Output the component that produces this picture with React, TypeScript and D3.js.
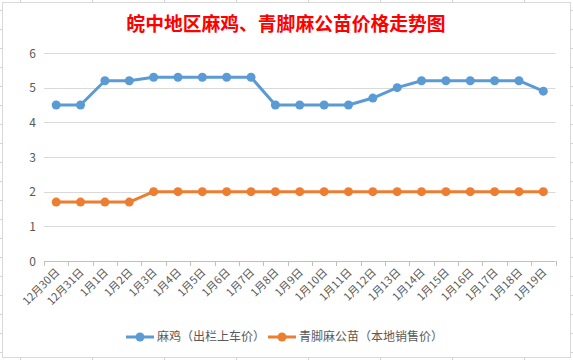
import React, { useEffect, useRef } from 'react';
import * as d3 from 'd3';

const categories = ['12月30日', '12月31日', '1月1日', '1月2日', '1月3日', '1月4日', '1月5日', '1月6日', '1月7日', '1月8日', '1月9日', '1月10日', '1月11日', '1月12日', '1月13日', '1月14日', '1月15日', '1月16日', '1月17日', '1月18日', '1月19日'];
const chickenPrice = [4.5, 4.5, 5.2, 5.2, 5.3, 5.3, 5.3, 5.3, 5.3, 4.5, 4.5, 4.5, 4.5, 4.7, 5.0, 5.2, 5.2, 5.2, 5.2, 5.2, 4.9];
const chickPrice = [1.7, 1.7, 1.7, 1.7, 2, 2, 2, 2, 2, 2, 2, 2, 2, 2, 2, 2, 2, 2, 2, 2, 2];
const yTicks = [0, 1, 2, 3, 4, 5, 6];
const seriesNames = ['麻鸡（出栏上车价）', '青脚麻公苗（本地销售价）'];
const colors = ['#5b9bd5', '#ed7d31'];

const W = 573, H = 360;
const font = '"Microsoft YaHei", "Noto Sans CJK SC", sans-serif';

export default function App() {
  const ref = useRef(null);

  useEffect(() => {
    d3.select(ref.current).selectAll('*').remove();
    const svg = d3.select(ref.current);

    /* spreadsheet background */
    const bg = svg.append('g').attr('stroke', '#d4d4d4').attr('stroke-width', 1);
    d3.range(20.5, W, 72).forEach(x => bg.append('line').attr('x1', x).attr('x2', x).attr('y1', 0).attr('y2', H));
    d3.range(10.5, H, 19).forEach(y => bg.append('line').attr('x1', 0).attr('x2', W).attr('y1', y).attr('y2', y));

    /* chart box */
    svg.append('rect').attr('x', 2.5).attr('y', 2.5).attr('width', 568).attr('height', 355)
      .attr('fill', '#fff').attr('stroke', '#d9d9d9');

    const x = d3.scaleBand().domain(categories).range([44, 555.5]);
    const y = d3.scaleLinear().domain([0, 6]).range([261, 53]);

    /* title */
    svg.append('text').attr('x', 286).attr('y', 31).attr('text-anchor', 'middle')
      .attr('font-family', '"Noto Sans CJK SC", sans-serif').attr('font-weight', 700)
      .attr('font-size', 18.8).attr('fill', '#ff0000')
      .text('皖中地区麻鸡、青脚麻公苗价格走势图');

    /* grid */
    svg.append('g').selectAll('line').data(yTicks.slice(1)).join('line')
      .attr('x1', 44).attr('x2', 555.5)
      .attr('y1', d => Math.round(y(d)) + 0.5).attr('y2', d => Math.round(y(d)) + 0.5)
      .attr('stroke', '#d9d9d9');

    svg.append('g').selectAll('text').data(yTicks).join('text')
      .attr('x', 36).attr('y', d => y(d) + 4.5).attr('text-anchor', 'end')
      .attr('font-family', font).attr('font-size', 12).attr('fill', '#595959')
      .text(d => d);

    /* x axis */
    const ax = svg.append('g').attr('stroke', '#bfbfbf');
    ax.append('line').attr('x1', 44).attr('x2', 555.5).attr('y1', 261.5).attr('y2', 261.5);
    const bounds = categories.map(c => x(c)).concat([x.range()[1]]);
    ax.selectAll('line.t').data(bounds).join('line').attr('class', 't')
      .attr('x1', d => Math.round(d) + 0.5).attr('x2', d => Math.round(d) + 0.5)
      .attr('y1', 261).attr('y2', 266);

    svg.append('g').selectAll('text').data(categories).join('text')
      .attr('transform', d => `translate(${x(d) + x.bandwidth() / 2 + 4},${273}) rotate(-45)`)
      .attr('text-anchor', 'end')
      .attr('font-family', font).attr('font-size', 11).attr('fill', '#595959')
      .text(d => d);

    /* series */
    const line = d3.line().x((d, i) => x(categories[i]) + x.bandwidth() / 2).y(d => y(d));
    [chickenPrice, chickPrice].forEach((vals, k) => {
      const g = svg.append('g');
      g.append('path').attr('d', line(vals)).attr('fill', 'none')
        .attr('stroke', colors[k]).attr('stroke-width', 3).attr('stroke-linejoin', 'round');
      g.selectAll('circle').data(vals).join('circle')
        .attr('cx', (d, i) => x(categories[i]) + x.bandwidth() / 2)
        .attr('cy', d => y(d)).attr('r', 4.5).attr('fill', colors[k]);
    });

    /* legend */
    const legendX = [126, 268];
    seriesNames.forEach((name, k) => {
      const g = svg.append('g').attr('transform', `translate(${legendX[k]},337)`);
      g.append('line').attr('x1', 0).attr('x2', 28).attr('stroke', colors[k]).attr('stroke-width', 3);
      g.append('circle').attr('cx', 14).attr('r', 4.5).attr('fill', colors[k]);
      g.append('text').attr('x', 31).attr('y', 4.3)
        .attr('font-family', font).attr('font-size', 12).attr('fill', '#595959').text(name);
    });
  }, []);

  return <svg ref={ref} width={W} height={H} style={{ position: 'absolute', left: 0, top: 0 }} />;
}
